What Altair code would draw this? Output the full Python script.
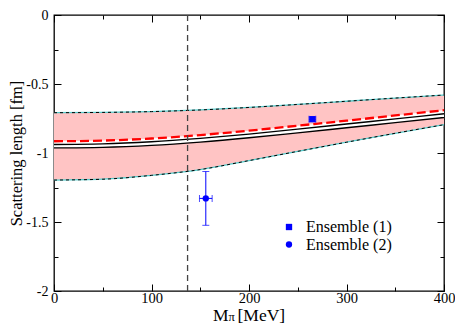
import altair as alt
import pandas as pd

# ---- data ----
x_grid = [0, 50, 100, 150, 200, 250, 300, 350, 400]
band_upper = [-0.708, -0.706, -0.700, -0.688, -0.670, -0.648, -0.625, -0.602, -0.580]
band_lower = [-1.196, -1.190, -1.162, -1.120, -1.055, -0.988, -0.922, -0.857, -0.795]
red_curve = [-0.915, -0.910, -0.895, -0.870, -0.838, -0.802, -0.766, -0.728, -0.690]
black_upper = [-0.938, -0.934, -0.919, -0.894, -0.863, -0.827, -0.790, -0.753, -0.716]
black_lower = [-0.963, -0.959, -0.945, -0.921, -0.890, -0.854, -0.817, -0.780, -0.743]

ens_name = ["Ensemble (1)", "Ensemble  (2)"]
ens_x = [265.0, 155.7]
ens_y = [-0.755, -1.329]
ens_xerr = [3.5, 6.5]
ens_yerr = [0.015, 0.195]

m_phys = [137]

x_major = [0, 100, 200, 300, 400]
x_minor = [50, 150, 250, 350]
y_major = [0, -0.5, -1, -1.5, -2]
y_minor = [-0.25, -0.75, -1.25, -1.75]

curves = pd.DataFrame({
    "x": x_grid, "upper": band_upper, "lower": band_lower,
    "red": red_curve, "b1": black_upper, "b2": black_lower,
})
pts = pd.DataFrame({"name": ens_name, "x": ens_x, "y": ens_y,
                    "xerr": ens_xerr, "yerr": ens_yerr})
pts["xlo"] = pts["x"] - pts["xerr"]
pts["xhi"] = pts["x"] + pts["xerr"]
pts["ylo"] = pts["y"] - pts["yerr"]
pts["yhi"] = pts["y"] + pts["yerr"]

FONT = "Liberation Serif, Times New Roman, Times, serif"
xs = alt.Scale(domain=[0, 400], nice=False, zero=False)
ys = alt.Scale(domain=[-2, 0], nice=False, zero=False)


def X(f):
    return alt.X(f, type="quantitative", scale=xs, axis=None)


def Y(f):
    return alt.Y(f, type="quantitative", scale=ys, axis=None)


base = alt.Chart(curves)

band = base.mark_area(color="#ffc4c4", interpolate="monotone").encode(
    x=X("x"), y=Y("upper"), y2=alt.Y2("lower"))
white = base.mark_area(color="white", interpolate="monotone").encode(
    x=X("x"), y=Y("red"), y2=alt.Y2("b2"))

edges = []
for f in ["upper", "lower"]:
    edges.append(base.mark_line(color="#55cccc", strokeWidth=1.3, interpolate="monotone").encode(
        x=X("x"), y=Y(f)))
    edges.append(base.mark_line(color="black", strokeWidth=1, strokeDash=[3, 3],
                                interpolate="monotone").encode(x=X("x"), y=Y(f)))

blacks = [base.mark_line(color="black", strokeWidth=1.4, interpolate="monotone").encode(
    x=X("x"), y=Y(f)) for f in ["b1", "b2"]]
red = base.mark_line(color="red", strokeWidth=2.3, strokeDash=[9, 4],
                     interpolate="monotone").encode(x=X("x"), y=Y("red"))

vline = alt.Chart(pd.DataFrame({"x": m_phys})).mark_rule(
    color="#444444", strokeWidth=1.3, strokeDash=[6, 4]).encode(x=X("x"))

pbase = alt.Chart(pts)
err_x = pbase.mark_rule(color="blue", strokeWidth=1).encode(
    x=X("xlo"), x2=alt.X2("xhi"), y=Y("y"))
err_y = pbase.mark_rule(color="blue", strokeWidth=1).encode(
    x=X("x"), y=Y("ylo"), y2=alt.Y2("yhi"))
cap_lo = pbase.mark_tick(color="blue", orient="horizontal", size=7, thickness=1).encode(
    x=X("x"), y=Y("ylo"))
cap_hi = pbase.mark_tick(color="blue", orient="horizontal", size=7, thickness=1).encode(
    x=X("x"), y=Y("yhi"))
cap_l = pbase.mark_tick(color="blue", orient="vertical", size=7, thickness=1).encode(
    x=X("xlo"), y=Y("y"))
cap_r = pbase.mark_tick(color="blue", orient="vertical", size=7, thickness=1).encode(
    x=X("xhi"), y=Y("y"))

points = pbase.mark_point(filled=True, size=40, opacity=1, color="blue").encode(
    x=X("x"), y=Y("y"),
    shape=alt.Shape("name:N",
                    scale=alt.Scale(domain=ens_name, range=["square", "circle"]),
                    legend=alt.Legend(orient="none", legendX=227, legendY=204, title=None,
                                      labelFont=FONT, labelFontSize=16, labelColor="black",
                                      labelOffset=9, symbolSize=40, symbolFillColor="blue",
                                      symbolStrokeColor="blue", symbolStrokeWidth=0,
                                      rowPadding=1.5, padding=0, labelLimit=300)))


def axis_layer(xorient, yorient, xvals, yvals, size, labels, title_y=None):
    xa = dict(orient=xorient, values=xvals, tickSize=size, offset=-size, domain=False,
              grid=False, tickColor="black", tickWidth=1, labels=labels, title=None)
    ya = dict(orient=yorient, values=yvals, tickSize=size, offset=-size, domain=False,
              grid=False, tickColor="black", tickWidth=1, labels=labels)
    if labels:
        xa.update(labelFont=FONT, labelFontSize=14.5, labelColor="black", labelPadding=0,
                  labelFlush=False, labelOverlap=False, labelBound=False)
        ya.update(labelFont=FONT, labelFontSize=14, labelColor="black", labelPadding=6,
                  labelFlush=False, labelOverlap=False, labelBound=False,
                  labelExpr="datum.value == 0 ? '0' : '' + datum.value")
    if title_y:
        ya.update(title=title_y, titleFont=FONT, titleFontSize=16.5, titleFontWeight="normal",
                  titleColor="black", titlePadding=1)
    else:
        ya.update(title=None)
    return base.mark_point(opacity=0).encode(
        x=alt.X("x", type="quantitative", scale=xs, axis=alt.Axis(**xa)),
        y=alt.Y("upper", type="quantitative", scale=ys, axis=alt.Axis(**ya)))


ax1 = axis_layer("bottom", "left", x_major, y_major, 7, True, "Scattering length [fm]")
ax2 = axis_layer("bottom", "left", x_minor, y_minor, 4, False)
ax3 = axis_layer("top", "right", x_major, y_major, 7, False)
ax4 = axis_layer("top", "right", x_minor, y_minor, 4, False)

tdf = pd.DataFrame({"a": [0]})
t_m = alt.Chart(tdf).mark_text(text="M", font=FONT, fontSize=17.5, align="left",
                               baseline="alphabetic", color="black").encode(
    x=alt.value(159), y=alt.value(305.5))
t_pi = alt.Chart(tdf).mark_text(text="π", font=FONT, fontSize=12.5, align="left",
                                baseline="alphabetic", color="black").encode(
    x=alt.value(174.5), y=alt.value(306))
t_mev = alt.Chart(tdf).mark_text(text="[MeV]", font=FONT, fontSize=17.5, align="left",
                                 baseline="alphabetic", color="black").encode(
    x=alt.value(183.5), y=alt.value(305.5))

chart = alt.layer(
    band, white, *edges, *blacks, red, vline,
    err_x, err_y, cap_lo, cap_hi, cap_l, cap_r, points,
    ax1, ax2, ax3, ax4, t_m, t_pi, t_mev,
).resolve_axis(x="independent", y="independent").properties(
    width=390, height=276,
    autosize=alt.AutoSizeParams(type="none"),
    padding={"left": 46, "top": 7, "right": 11, "bottom": 33},
    background="white",
).configure_view(stroke="black", strokeWidth=1.3)

chart.save("out.html", embed_options={"renderer": "svg", "actions": False})
